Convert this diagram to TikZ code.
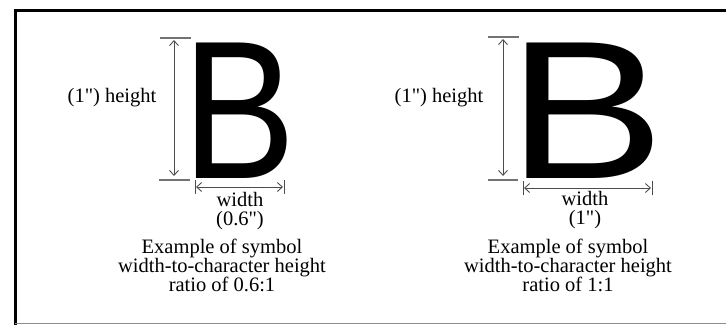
\documentclass[tikz,border=0pt]{standalone}
\usepackage{fontspec}
\setmainfont{Liberation Serif}
\newfontfamily\glyphfam{Liberation Sans}
\usetikzlibrary{arrows.meta}
\newcommand{\inch}{\textquotedbl}
\tikzset{
  lbl/.style={font=\fontsize{20.5}{19}\selectfont, inner sep=0pt, align=center},
  bglyph/.style={font=\glyphfam\fontsize{197}{197}\selectfont, inner sep=0pt, anchor=base west},
  tickline/.style={line width=1.6pt, black!55},
  barline/.style={line width=0.9pt, black!70},
  dimarrow/.style={line width=0.9pt, black!70, {Straight Barb[length=5pt,width=9pt]}-{Straight Barb[length=5pt,width=9pt]}},
  frameline/.style={line width=2.6pt, black}
}
\begin{document}
\begin{tikzpicture}[x=1pt,y=-1pt]
\useasboundingbox (0,0) rectangle (726,325);
% frame
\draw[frameline] (14,10.5) -- (726,10.5);
\draw[frameline] (15.5,9) -- (15.5,325);
\draw[line width=1.2pt, black!45] (15,323.6) -- (726,323.6);

% ---------- left example ----------
\node[bglyph] (B1) at ({195-14.4*0.864},178) {\scalebox{0.864}[1]{B}};
\coordinate (L1a) at (160,38);  \coordinate (L1b) at (191,38);
\coordinate (L1c) at (159,180); \coordinate (L1d) at (190,180);
\draw[tickline] (L1a) -- (L1b);
\draw[tickline] (L1c) -- (L1d);
\coordinate (H1t) at (174,40); \coordinate (H1b) at (174,176);
\draw[dimarrow] (H1t) -- (H1b);
\coordinate (W1l) at (195,180); \coordinate (W1lb) at (195,194);
\coordinate (W1r) at (284,180); \coordinate (W1rb) at (284,194);
\draw[barline] (W1l) -- (W1lb);
\draw[barline] (W1r) -- (W1rb);
\coordinate (W1a) at (196,187); \coordinate (W1b) at (283,187);
\draw[dimarrow] (W1a) -- (W1b);
\node[lbl, anchor=base] (ht1) at (112,102) {(1\inch) height};
\node[lbl, anchor=north] (wd1) at (240,192) {width\\(0.6\inch)};
\node[lbl, anchor=north] (c1) at (222,239) {Example of symbol\\width-to-character height\\ratio of 0.6:1};

% ---------- right example ----------
\node[bglyph] (B2) at ({525-14.4*1.2},178) {\scalebox{1.2}[1]{B}};
\coordinate (L2a) at (488,37);  \coordinate (L2b) at (519,37);
\coordinate (L2c) at (488,180); \coordinate (L2d) at (518,180);
\draw[tickline] (L2a) -- (L2b);
\draw[tickline] (L2c) -- (L2d);
\coordinate (H2t) at (503,39); \coordinate (H2b) at (503,176);
\draw[dimarrow] (H2t) -- (H2b);
\coordinate (W2l) at (523,181); \coordinate (W2lb) at (523,195);
\coordinate (W2r) at (652,181); \coordinate (W2rb) at (652,195);
\draw[barline] (W2l) -- (W2lb);
\draw[barline] (W2r) -- (W2rb);
\coordinate (W2a) at (524,188); \coordinate (W2b) at (651,188);
\draw[dimarrow] (W2a) -- (W2b);
\node[lbl, anchor=base] (ht2) at (439,102) {(1\inch) height};
\node[lbl, anchor=north] (wd2) at (585,191) {width\\(1\inch)};
\node[lbl, anchor=north] (c2) at (568,239) {Example of symbol\\width-to-character height\\ratio of 1:1};
\end{tikzpicture}
\end{document}
